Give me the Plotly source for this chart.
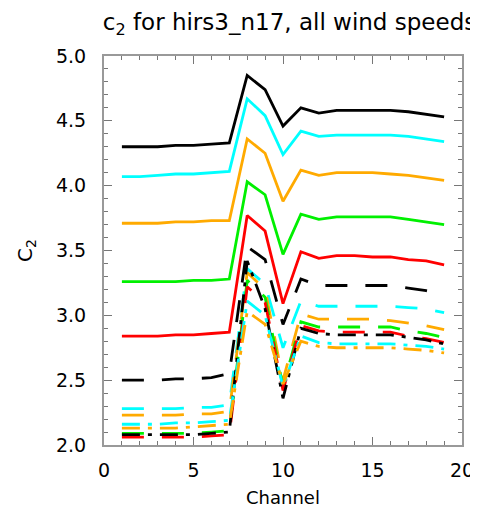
import plotly.graph_objects as go

channels = list(range(1, 20))

# solid group
black_solid = [4.30,4.30,4.30,4.31,4.31,4.32,4.33,4.85,4.74,4.46,4.60,4.56,4.58,4.58,4.58,4.58,4.57,4.55,4.53]
cyan_solid = [4.07,4.07,4.08,4.09,4.09,4.10,4.11,4.67,4.54,4.24,4.42,4.38,4.39,4.39,4.39,4.39,4.38,4.36,4.34]
orange_solid = [3.71,3.71,3.71,3.72,3.72,3.73,3.73,4.36,4.25,3.88,4.12,4.08,4.10,4.10,4.10,4.09,4.08,4.06,4.04]
green_solid = [3.26,3.26,3.26,3.26,3.27,3.27,3.28,4.03,3.93,3.47,3.78,3.74,3.76,3.76,3.76,3.76,3.74,3.72,3.70]
red_solid = [2.84,2.84,2.84,2.85,2.85,2.86,2.87,3.77,3.65,3.09,3.49,3.44,3.46,3.46,3.45,3.45,3.43,3.42,3.39]

# dashed group
black_dash = [2.50,2.50,2.50,2.51,2.51,2.52,2.55,3.53,3.43,2.93,3.28,3.23,3.23,3.23,3.23,3.23,3.21,3.19,3.16]
cyan_dash = [2.28,2.28,2.28,2.28,2.29,2.29,2.31,3.36,3.24,2.75,3.11,3.07,3.07,3.07,3.07,3.07,3.06,3.05,3.02]
orange_dash = [2.23,2.23,2.23,2.23,2.24,2.24,2.26,3.33,3.20,2.50,3.01,2.97,2.97,2.97,2.97,2.96,2.94,2.92,2.89]
green_dash = [2.09,2.09,2.09,2.09,2.09,2.10,2.11,3.27,3.14,2.45,2.95,2.91,2.91,2.91,2.91,2.91,2.88,2.86,2.83]
red_dash = [2.06,2.06,2.06,2.06,2.06,2.07,2.08,3.22,3.10,2.42,2.92,2.88,2.87,2.87,2.87,2.87,2.84,2.82,2.79]

# dash-dot group
black_dd = [2.08,2.08,2.08,2.08,2.08,2.09,2.10,3.42,3.05,2.36,2.90,2.86,2.85,2.85,2.85,2.85,2.83,2.81,2.78]
cyan_dd = [2.16,2.16,2.16,2.17,2.17,2.18,2.19,3.11,3.00,2.45,2.84,2.79,2.78,2.78,2.78,2.78,2.77,2.76,2.74]
orange_dd = [2.13,2.13,2.13,2.13,2.14,2.15,2.16,3.03,2.93,2.47,2.80,2.76,2.75,2.75,2.75,2.75,2.74,2.73,2.71]

BLACK = "#000000"
CYAN = "#00FFFF"
ORANGE = "#FFAA00"
GREEN = "#00F000"
RED = "#FF0000"

DASH = "22px,18px"
DASHDOT = "18px,8px,4px,8px"

series = [
    (black_solid, BLACK, "solid"), (cyan_solid, CYAN, "solid"), (orange_solid, ORANGE, "solid"),
    (green_solid, GREEN, "solid"), (red_solid, RED, "solid"),
    (black_dash, BLACK, DASH), (cyan_dash, CYAN, DASH), (orange_dash, ORANGE, DASH),
    (green_dash, GREEN, DASH), (red_dash, RED, DASH),
    (black_dd, BLACK, DASHDOT), (cyan_dd, CYAN, DASHDOT), (orange_dd, ORANGE, DASHDOT),
]

fig = go.Figure()
for vals, col, dash in series:
    fig.add_trace(go.Scatter(x=channels, y=vals, mode="lines",
                             line=dict(color=col, width=2.8, dash=dash),
                             showlegend=False, hoverinfo="skip"))

FONT = "DejaVu Sans, Liberation Sans, Arial, sans-serif"

axis_common = dict(
    showgrid=False, zeroline=False, showline=True, linecolor="#999999", linewidth=2,
    mirror="allticks", ticks="inside", ticklen=8, tickwidth=1.2, tickcolor="#777777",
    tickfont=dict(family=FONT, size=19, color="#000000"),
)

fig.update_layout(
    width=478, height=509,
    margin=dict(l=96, r=22, t=48, b=70),
    paper_bgcolor="white", plot_bgcolor="white",
    title=dict(text="c<sub>2</sub> for hirs3_n17, all wind speeds",
               x=281.5 / 478, xanchor="center", xref="container", yref="container",
               y=1 - 14 / 509, yanchor="middle",
               font=dict(family=FONT, size=23, color="#000000")),
    xaxis=dict(range=[0, 20], tickmode="array", tickvals=[0, 5, 10, 15, 20],
               ticktext=["0", "5", "10", "15", "20"], ticklabelstandoff=7,
               minor=dict(ticks="inside", ticklen=4, tickcolor="#777777", dtick=1, tick0=0),
               title=dict(text="Channel", standoff=12,
                          font=dict(family=FONT, size=18, color="#000000")),
               **axis_common),
    yaxis=dict(range=[2.0, 5.0], tickmode="array", tickvals=[2.0, 2.5, 3.0, 3.5, 4.0, 4.5, 5.0],
               ticktext=["2.0", "2.5", "3.0", "3.5", "4.0", "4.5", "5.0"], ticklabelstandoff=12,
               minor=dict(ticks="inside", ticklen=4, tickcolor="#777777", dtick=0.1, tick0=2.0),
               title=dict(text="C<sub>2</sub>", standoff=18,
                          font=dict(family=FONT, size=20, color="#000000")),
               **axis_common),
)

fig.write_html("out.html")
